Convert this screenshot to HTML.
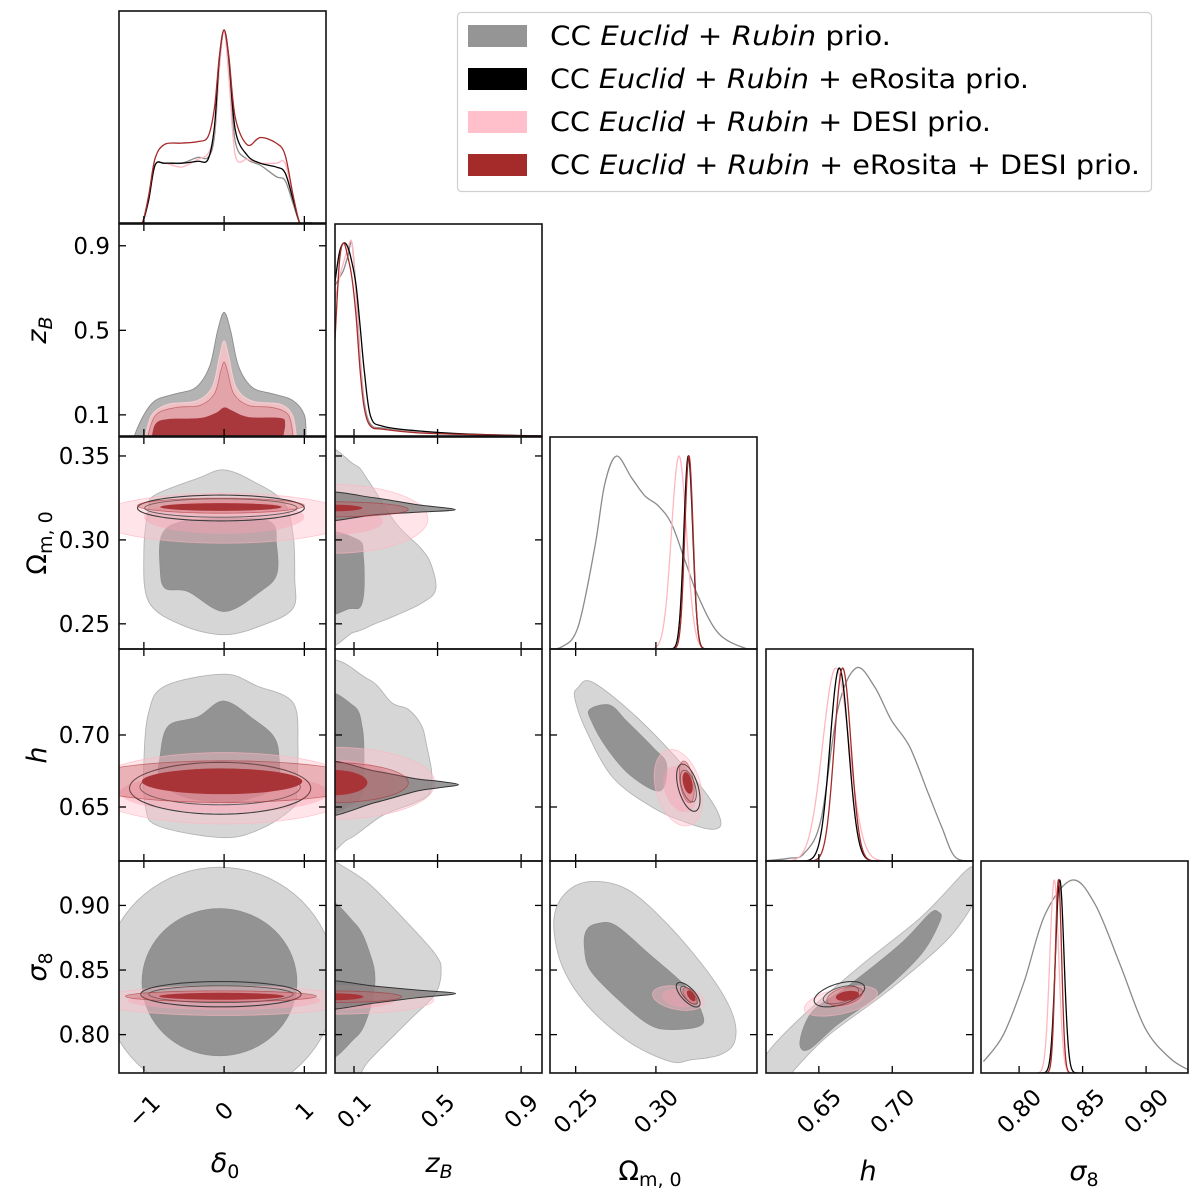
<!DOCTYPE html>
<html><head><meta charset="utf-8">
<style>
html,body{margin:0;padding:0;background:#fff;}
svg{display:block;font-family:"DejaVu Sans","Liberation Sans",sans-serif;}
</style></head>
<body>
<svg id="chart" width="1200" height="1201" viewBox="0 0 1200 1201" xmlns="http://www.w3.org/2000/svg">
<rect x="0" y="0" width="1200" height="1201" fill="#fff"/>
<g id="panels"></g>
<g id="labels"></g>
<g id="legend">
  <rect x="457.5" y="12.5" width="694" height="179" rx="4" fill="#fff" stroke="#d0d0d0" stroke-width="1.2"/>
  <rect x="468" y="25" width="59" height="22" fill="#959595"/>
  <rect x="468" y="68" width="59" height="22" fill="#000"/>
  <rect x="468" y="111" width="59" height="22" fill="#ffc0cb"/>
  <rect x="468" y="154" width="59" height="22" fill="#a52a2a"/>
  <text x="550" y="45" font-size="26.5" textLength="341" lengthAdjust="spacingAndGlyphs">CC <tspan font-style="italic">Euclid</tspan> + <tspan font-style="italic">Rubin</tspan>  prio.</text>
  <text x="550" y="88" font-size="26.5" textLength="479" lengthAdjust="spacingAndGlyphs">CC <tspan font-style="italic">Euclid</tspan> + <tspan font-style="italic">Rubin</tspan> + eRosita prio.</text>
  <text x="550" y="131" font-size="26.5" textLength="441" lengthAdjust="spacingAndGlyphs">CC <tspan font-style="italic">Euclid</tspan> + <tspan font-style="italic">Rubin</tspan> + DESI prio.</text>
  <text x="550" y="174" font-size="26.5" textLength="590" lengthAdjust="spacingAndGlyphs">CC <tspan font-style="italic">Euclid</tspan> + <tspan font-style="italic">Rubin</tspan> + eRosita + DESI prio.</text>
</g>
</svg>
<script>
// ---------- axis configuration ----------
const colRanges = [[-1.31,1.27],[0.009,1.0],[0.234,0.363],[0.614,0.755],[0.770,0.933]];
const rowRanges = [null,[0.0,1.003],[0.235,0.3613],[0.6125,0.7597],[0.7703,0.9344]];
const xTicks = [[-1,0,1],[0.1,0.5,0.9],[0.25,0.30],[0.65,0.70],[0.80,0.85,0.90]];
const xTickLabels = [["\u22121","0","1"],["0.1","0.5","0.9"],["0.25","0.30"],["0.65","0.70"],["0.80","0.85","0.90"]];
const yTicks = [null,[0.1,0.5,0.9],[0.25,0.30,0.35],[0.65,0.70],[0.80,0.85,0.90]];
const yTickLabels = [null,["0.1","0.5","0.9"],["0.25","0.30","0.35"],["0.65","0.70"],["0.80","0.85","0.90"]];

// ---------- 1D marginal data ----------
const d0Grid  = [-1.1,-1.02,-0.94,-0.86,-0.74,-0.53,-0.33,-0.2,-0.12,-0.06,0,0.06,0.14,0.29,0.45,0.65,0.76,0.86,0.94,1.0,1.1];
const d0Gray  = [0,0,0.12,0.30,0.31,0.31,0.34,0.34,0.45,0.80,1.0,0.80,0.42,0.33,0.30,0.24,0.22,0.10,0.003,0,0];
const d0Black = [0,0,0.12,0.30,0.31,0.31,0.32,0.33,0.50,0.85,1.0,0.85,0.48,0.35,0.31,0.29,0.26,0.12,0.003,0,0];
const d0Pink  = [0,0,0.12,0.30,0.31,0.29,0.33,0.36,0.48,0.80,1.0,0.75,0.35,0.33,0.31,0.31,0.31,0.13,0.003,0,0];
const d0Red   = [0,0,0.143,0.335,0.408,0.414,0.422,0.448,0.597,0.859,1.0,0.859,0.545,0.405,0.443,0.414,0.353,0.143,0.003,0,0];

const zbGrid  = [0.009,0.03,0.05,0.07,0.09,0.11,0.13,0.15,0.18,0.24,0.4,0.64,1.0];
const zbGray  = [0.78,0.82,0.86,0.93,1.0,0.75,0.40,0.17,0.06,0.04,0.02,0.008,0];
const zbBlack = [0.80,0.95,1.0,0.98,0.90,0.78,0.56,0.33,0.10,0.05,0.027,0.01,0];
const zbPink  = [0.70,0.82,0.90,0.97,1.0,0.72,0.38,0.15,0.05,0.035,0.018,0.008,0];
const zbRed   = [0.50,0.90,1.0,0.93,0.82,0.62,0.33,0.14,0.05,0.035,0.017,0.008,0];

const omGrid = [0.230,0.2411,0.2515,0.2619,0.2681,0.2754,0.2848,0.2931,0.3015,0.3098,0.3181,0.3265,0.339,0.3556,0.365];
const omGray = [0,0.01,0.115,0.527,0.854,1.0,0.888,0.794,0.742,0.648,0.459,0.270,0.081,0.004,0];
const omMean  = [0.3144,0.3202,0.3206];   // pink, black, red
const omSigma = [0.0047,0.0028,0.0026];

const hGrid = [0.612,0.6295,0.6399,0.6514,0.6628,0.6753,0.6879,0.6993,0.7118,0.7245,0.7336,0.7427,0.7553];
const hGray = [0,0.014,0.039,0.212,0.782,1.0,0.904,0.731,0.593,0.351,0.178,0.022,0];
const hMean  = [0.6616,0.6639,0.6662];
const hSigma = [0.0090,0.0063,0.0057];

const s8Grid = [0.7719,0.7876,0.8041,0.8205,0.8417,0.8598,0.8795,0.8992,0.9189,0.9352];
const s8Gray = [0.059,0.198,0.476,0.823,1.0,0.875,0.5625,0.233,0.0765,0.01];
const s8Mean  = [0.8277,0.8320,0.8310];
const s8Sigma = [0.0035,0.0034,0.0025];

// ---------- 2D contour data (data coordinates) ----------
const hatGray = [[-1.12,-0.02],[-1.12,0],[-1.0,0.1],[-0.85,0.17],[-0.6,0.2],[-0.35,0.23],[-0.18,0.33],[-0.08,0.5],[0,0.585],[0.08,0.5],[0.18,0.33],[0.35,0.23],[0.6,0.2],[0.85,0.17],[1.0,0.1],[1.02,0],[1.02,-0.02]];
const hatPink = [[-0.98,-0.02],[-0.98,0],[-0.9,0.1],[-0.7,0.15],[-0.35,0.165],[-0.15,0.23],[-0.06,0.37],[0,0.45],[0.06,0.37],[0.15,0.23],[0.35,0.165],[0.7,0.15],[0.85,0.1],[0.9,0],[0.9,-0.02]];
const hatRose = [[-0.95,-0.02],[-0.95,0],[-0.85,0.1],[-0.6,0.135],[-0.3,0.145],[-0.12,0.2],[-0.04,0.31],[0,0.35],[0.04,0.31],[0.12,0.2],[0.3,0.145],[0.6,0.135],[0.8,0.1],[0.86,0],[0.86,-0.02]];
const hatRed  = [[-0.9,-0.02],[-0.9,0],[-0.85,0.06],[-0.7,0.08],[-0.3,0.085],[-0.1,0.11],[0,0.135],[0.1,0.12],[0.3,0.09],[0.7,0.085],[0.76,0.06],[0.74,0],[0.74,-0.02]];

const omD0GrayOuter = [[0,0.3417],[0.368,0.3347],[0.736,0.3228],[0.86,0.303],[0.88,0.2772],[0.859,0.2593],[0.491,0.2494],[0,0.2435],[-0.532,0.2494],[-0.941,0.2633],[-1.0,0.293],[-0.941,0.3189],[-0.859,0.3268],[-0.327,0.3367]];
const omD0GrayInner = [[0,0.3129],[0.573,0.3109],[0.654,0.297],[0.654,0.2792],[0.45,0.2692],[0,0.2573],[-0.45,0.2692],[-0.736,0.2712],[-0.798,0.2831],[-0.777,0.303],[-0.532,0.3109]];
const omD0Pink = [[0,0.3129,1.6,0.0149,0],[0,0.3137,1.0,0.0101,0]];
const omD0Black = [[-0.04,0.319,1.04,0.0077,0],[-0.04,0.319,0.95,0.0055,0]];
const omD0Red = [[-0.04,0.3204,1.04,0.0045,0],[-0.04,0.3196,0.757,0.0023,0]];

const hD0GrayOuter = [[0,0.7422],[0.41,0.734],[0.859,0.7224],[0.92,0.6924],[0.9,0.66],[0.879,0.6507],[0.491,0.6357],[0,0.6287],[-0.818,0.6368],[-0.982,0.6507],[-1.0,0.6808],[-0.941,0.7155],[-0.736,0.734]];
const hD0GrayInner = [[0,0.7236],[0.368,0.7109],[0.614,0.6993],[0.684,0.6854],[0.654,0.6646],[0.286,0.6553],[0,0.653],[-0.532,0.6576],[-0.798,0.6692],[-0.798,0.6854],[-0.695,0.7063],[-0.327,0.7126]];
const hD0Pink = [[0,0.663,1.7,0.0248,0],[0,0.6599,1.3,0.0139,0]];
const hD0Black = [[-0.05,0.663,1.13,0.018,0],[-0.05,0.664,1.0,0.0125,0]];
const hD0Red = [[0,0.6676,1.8,0.0145,0],[-0.025,0.6678,1.0,0.0089,0]];

const s8D0Gray = [[-0.058,0.8406,1.45,0.089,0],[-0.058,0.8406,0.966,0.057,0]];
const s8D0Pink = [[0,0.8263,1.6,0.0115,0],[0,0.8265,1.2,0.0075,0]];
const s8D0Black = [[-0.04,0.8313,1.0,0.0098,0],[-0.04,0.8313,0.9,0.0065,0]];
const s8D0Red = [[-0.04,0.8297,1.19,0.0042,0],[-0.03,0.8297,0.78,0.0027,0]];

const omZbGrayOuter = [[-0.05,0.347],[0.1,0.345],[0.17,0.335],[0.3,0.31],[0.42,0.295],[0.47,0.285],[0.49,0.27],[0.42,0.262],[0.3,0.255],[0.2,0.25],[0.1,0.245],[-0.05,0.244]];
const omZbGrayInner = [[-0.05,0.302],[0.12,0.3],[0.145,0.29],[0.148,0.27],[0.13,0.26],[0.08,0.259],[-0.05,0.258]];
const omZbBlackTail = [[-0.05,0.328],[0.2,0.325],[0.4,0.321],[0.585,0.318],[0.4,0.3165],[0.2,0.315],[-0.05,0.312]];
const omZbPink = [[0,0.3125,0.454,0.0205,0],[0,0.311,0.239,0.008,0]];
const omZbRed = [[0,0.3182,0.36,0.0045,0],[0,0.319,0.14,0.002,0]];

const hZbGrayOuter = [[-0.05,0.7444],[0.1686,0.7387],[0.2805,0.7224],[0.36,0.7178],[0.424,0.7063],[0.448,0.6924],[0.472,0.6738],[0.464,0.6599],[0.392,0.653],[0.2327,0.6438],[0.0727,0.6276],[-0.05,0.6264]];
const hZbGrayInner = [[-0.05,0.725],[0.1,0.72],[0.14,0.705],[0.148,0.685],[0.14,0.66],[0.09,0.652],[-0.05,0.65]];
const hZbBlackTail = [[-0.05,0.6803],[0.2,0.675],[0.4,0.6695],[0.5,0.668],[0.6,0.6655],[0.5,0.6632],[0.4,0.661],[0.2,0.653],[-0.05,0.6449]];
const hZbPink = [[0,0.6665,0.488,0.025,0],[0,0.666,0.3,0.017,0]];
const hZbRed = [[0,0.6669,0.36,0.0139,0],[0,0.6669,0.164,0.0088,0]];

const s8ZbGrayOuter = [[-0.05,0.94],[0.009,0.934],[0.1686,0.9172],[0.344,0.8885],[0.488,0.8625],[0.517,0.8495],[0.488,0.8313],[0.36,0.8104],[0.1686,0.7792],[0.105,0.765],[-0.05,0.765]];
const s8ZbGrayInner = [[-0.05,0.8977],[0.105,0.886],[0.1766,0.8625],[0.2006,0.8417],[0.1686,0.8156],[0.105,0.7974],[-0.05,0.787]];
const s8ZbBlackTail = [[-0.05,0.8409],[0.2,0.8375],[0.4,0.8345],[0.587,0.8318],[0.4,0.8285],[0.2,0.8245],[-0.05,0.8203]];
const s8ZbPink = [[0,0.8268,0.482,0.011,0],[0,0.8268,0.3,0.0075,0]];
const s8ZbRed = [[0,0.8293,0.328,0.0045,0],[0,0.8293,0.145,0.0027,0]];

const hOmGrayOuter = [[0.2598,0.737],[0.2838,0.7167],[0.3088,0.6889],[0.3317,0.6588],[0.3404,0.6403],[0.3358,0.6345],[0.3192,0.6391],[0.2983,0.6495],[0.2733,0.6703],[0.2567,0.7028],[0.2494,0.7259],[0.2515,0.7329]];
const hOmGrayInner = [[0.2588,0.7178],[0.2713,0.7208],[0.2817,0.7097],[0.2983,0.6912],[0.3067,0.6796],[0.3025,0.6611],[0.2838,0.6722],[0.2692,0.6912],[0.2598,0.7097]];
const hOmPink = [[0.314,0.6634,0.0151,0.0266,-0.3],[0.315,0.6623,0.0104,0.016,-0.3]];
const hOmBlack = [[0.3202,0.6634,0.0073,0.0164,-0.5],[0.3202,0.6645,0.005,0.011,-0.5]];
const hOmRed = [[0.3192,0.6674,0.0047,0.0145,-0.4],[0.3198,0.6667,0.0032,0.0075,-0.4]];

const s8OmGrayOuter = [[0.2593,0.9185],[0.2827,0.912],[0.3088,0.8834],[0.3348,0.8443],[0.3478,0.8156],[0.3491,0.7948],[0.34,0.7844],[0.3218,0.7805],[0.3088,0.7792],[0.2827,0.7948],[0.2567,0.8234],[0.2411,0.8547],[0.2364,0.8885],[0.2436,0.9094]];
const s8OmGrayInner = [[0.2632,0.8859],[0.2749,0.8846],[0.2957,0.8625],[0.3192,0.8365],[0.3291,0.8156],[0.327,0.8065],[0.3088,0.8039],[0.2957,0.8078],[0.2775,0.826],[0.2593,0.8495],[0.2554,0.8677],[0.2567,0.8807]];
const s8OmPink = [[0.314,0.8283,0.0161,0.0095,-0.3],[0.314,0.8281,0.0104,0.0072,-0.3]];
const s8OmBlack = [[0.3201,0.8309,0.0074,0.0095,-0.7],[0.3205,0.8305,0.0052,0.0068,-0.7]];
const s8OmRed = [[0.3216,0.8299,0.0048,0.0065,-0.6],[0.322,0.830,0.0027,0.0042,-0.6]];

const s8HGrayOuter = [[0.61,0.77],[0.6157,0.787],[0.64,0.8156],[0.6799,0.8547],[0.7199,0.8912],[0.7484,0.925],[0.7555,0.9307],[0.76,0.935],[0.765,0.92],[0.757,0.9041],[0.737,0.8729],[0.6971,0.8338],[0.6571,0.80],[0.6342,0.774],[0.625,0.76]];
const s8HGrayInner = [[0.6371,0.7948],[0.6457,0.8182],[0.6685,0.8365],[0.7056,0.8703],[0.7256,0.8938],[0.7313,0.895],[0.7327,0.8885],[0.7199,0.8625],[0.6913,0.8313],[0.6628,0.8078],[0.6428,0.7883]];
const s8HPink = [[0.665,0.826,0.025,0.0117,0.5],[0.669,0.8275,0.0121,0.0065,0.4]];
const s8HBlack = [[0.664,0.8313,0.0172,0.0098,0.5],[0.665,0.8308,0.012,0.007,0.5]];
const s8HRed = [[0.6676,0.8297,0.0122,0.0074,0.4],[0.6695,0.830,0.0079,0.0039,0.3]];

// ---------- helpers ----------
const NS = "http://www.w3.org/2000/svg";
const L = [119,335,550,766,981], T = [11,224,437,649,861], W = 207, H = 212;
const panelsG = document.getElementById('panels');
const labelsG = document.getElementById('labels');
function mk(tag, attrs, parent){ const e=document.createElementNS(NS,tag); for(const k in attrs) e.setAttribute(k,attrs[k]); parent.appendChild(e); return e; }
function sx(c,v){ const r=colRanges[c]; return L[c]+(v-r[0])/(r[1]-r[0])*W; }
function sy(rw,v){ const r=rowRanges[rw]; return T[rw]+H-(v-r[0])/(r[1]-r[0])*H; }
function smoothClosed(p){
  const n=p.length; let d=`M${p[0][0].toFixed(2)},${p[0][1].toFixed(2)}`;
  for(let i=0;i<n;i++){ const p0=p[(i-1+n)%n],p1=p[i],p2=p[(i+1)%n],p3=p[(i+2)%n];
    const c1=[p1[0]+(p2[0]-p0[0])/6,p1[1]+(p2[1]-p0[1])/6], c2=[p2[0]-(p3[0]-p1[0])/6,p2[1]-(p3[1]-p1[1])/6];
    d+=`C${c1[0].toFixed(2)},${c1[1].toFixed(2)} ${c2[0].toFixed(2)},${c2[1].toFixed(2)} ${p2[0].toFixed(2)},${p2[1].toFixed(2)}`; }
  return d+'Z';
}
function smoothOpen(p){
  const n=p.length; let d=`M${p[0][0].toFixed(2)},${p[0][1].toFixed(2)}`;
  for(let i=0;i<n-1;i++){ const p0=p[Math.max(i-1,0)],p1=p[i],p2=p[i+1],p3=p[Math.min(i+2,n-1)];
    const c1=[p1[0]+(p2[0]-p0[0])/6,p1[1]+(p2[1]-p0[1])/6], c2=[p2[0]-(p3[0]-p1[0])/6,p2[1]-(p3[1]-p1[1])/6];
    d+=`C${c1[0].toFixed(2)},${c1[1].toFixed(2)} ${c2[0].toFixed(2)},${c2[1].toFixed(2)} ${p2[0].toFixed(2)},${p2[1].toFixed(2)}`; }
  return d;
}
function ellPath(c,r,e){
  const [cx,cy,rx,ry,rho]=e; const s=Math.sqrt(1-rho*rho); let d='';
  for(let i=0;i<=72;i++){ const t=i/72*2*Math.PI; const x=cx+rx*Math.cos(t), y=cy+ry*(rho*Math.cos(t)+s*Math.sin(t));
    d+=(i?'L':'M')+sx(c,x).toFixed(2)+','+sy(r,y).toFixed(2); }
  return d+'Z';
}
function polyPath(c,r,pts){ return smoothClosed(pts.map(p=>[sx(c,p[0]),sy(r,p[1])])); }

const ST = {
  grayOuter:{fill:'#d6d6d6',stroke:'#b4b4b4','stroke-width':0.9},
  grayInner:{fill:'#939393',stroke:'#8a8a8a','stroke-width':0.6},
  pinkOuter:{fill:'rgba(255,192,203,0.42)',stroke:'rgba(255,180,192,0.7)','stroke-width':0.8},
  pinkInner:{fill:'rgba(250,160,178,0.42)',stroke:'none'},
  blackOuter:{fill:'none',stroke:'#3c3c3c','stroke-width':1.1},
  blackInner:{fill:'none',stroke:'#555','stroke-width':0.9},
  blackTail:{fill:'rgba(120,120,120,0.75)',stroke:'#333','stroke-width':1.0},
  redOuter:{fill:'rgba(200,95,100,0.38)',stroke:'rgba(165,42,42,0.55)','stroke-width':0.8},
  redInner:{fill:'#a93437',stroke:'none'}
};
function addPath(g,d,style,name){
  const attrs={d:d}; for(const k in style) attrs[k]=style[k];
  const p=mk('path',attrs,g);
  
  
  return p;
}

function frame(c,r,diag){
  const g=mk('g',{},panelsG);
  
  
  const cid='clip'+r+c;
  const cp=mk('clipPath',{id:cid},g); mk('rect',{x:L[c],y:T[r],width:W,height:H},cp);
  const inner=mk('g',{'clip-path':`url(#${cid})`},g);
  return {g,inner,diag};
}
function finishFrame(f,c,r){
  const g=f.g;
  const tk=mk('g',{stroke:'#000','stroke-width':1.3},g);
  
  
  xTicks[c].forEach(v=>{ const x=sx(c,v);
    mk('line',{x1:x,x2:x,y1:T[r]+H,y2:T[r]+H-7},tk);
    if(!f.diag) mk('line',{x1:x,x2:x,y1:T[r],y2:T[r]+7},tk); });
  if(!f.diag) yTicks[r].forEach(v=>{ const y=sy(r,v);
    mk('line',{x1:L[c],x2:L[c]+7,y1:y,y2:y},tk); mk('line',{x1:L[c]+W,x2:L[c]+W-7,y1:y,y2:y},tk); });
  const fr=mk('rect',{x:L[c],y:T[r],width:W,height:H,fill:'none',stroke:'#111','stroke-width':1.6},g);
  
  
}

// ---------- 1D panels ----------
const lineCols = {gray:'#8a8a8a',black:'#000',pink:'#ffb6c1',red:'#a52a2a'};
function curve(f,c,r,grid,vals,col,name){
  const pts=grid.map((x,i)=>[sx(c,x), T[r]+H-vals[i]*0.91*H]);
  const p=mk('path',{d:smoothOpen(pts),fill:'none',stroke:col,'stroke-width':1.3},f.inner);
  
  
}
function gauss(f,c,r,mu,sig,col,name){
  const grid=[],vals=[];
  for(let i=0;i<=160;i++){ const x=mu-5*sig+i*10*sig/160; grid.push(x); vals.push(Math.exp(-0.5*((x-mu)/sig)**2)); }
  const pts=grid.map((x,i)=>[sx(c,x), T[r]+H-vals[i]*0.91*H]);
  let d=''; pts.forEach((p,i)=>d+=(i?'L':'M')+p[0].toFixed(2)+','+p[1].toFixed(2));
  const p=mk('path',{d:d,fill:'none',stroke:col,'stroke-width':1.3},f.inner);
  
  
}
let f;
f=frame(0,0,true);
curve(f,0,0,d0Grid,d0Gray,lineCols.gray,'marginal-delta0-gray');
curve(f,0,0,d0Grid,d0Pink,lineCols.pink,'marginal-delta0-pink');
curve(f,0,0,d0Grid,d0Black,lineCols.black,'marginal-delta0-black');
curve(f,0,0,d0Grid,d0Red,lineCols.red,'marginal-delta0-red');
finishFrame(f,0,0);

f=frame(0,1,false);
addPath(f.inner,polyPath(0,1,hatGray),{fill:'#b3b3b3',stroke:'#8c8c8c','stroke-width':0.9},'contour-zb-delta0-gray');
addPath(f.inner,polyPath(0,1,hatPink),{fill:'#eec2c5',stroke:'#f5d0d4','stroke-width':1},'contour-zb-delta0-pink');
addPath(f.inner,polyPath(0,1,hatRose),{fill:'#e2a4a8',stroke:'#c86a70','stroke-width':0.8},'contour-zb-delta0-red-outer');
addPath(f.inner,polyPath(0,1,hatRed),{fill:'#a8383b',stroke:'none'},'contour-zb-delta0-red-inner');
finishFrame(f,0,1);

f=frame(1,1,true);
curve(f,1,1,zbGrid,zbGray,lineCols.gray,'marginal-zb-gray');
curve(f,1,1,zbGrid,zbPink,lineCols.pink,'marginal-zb-pink');
curve(f,1,1,zbGrid,zbBlack,lineCols.black,'marginal-zb-black');
curve(f,1,1,zbGrid,zbRed,lineCols.red,'marginal-zb-red');
finishFrame(f,1,1);

function panel2D(c,r,o){
  const fr=frame(c,r,false); const g=fr.inner; const tag='r'+r+'-c'+c;
  if(o.gray){ if(o.gray.outer) addPath(g,o.gray.outer,ST.grayOuter,'contour-gray-95-'+tag);
              if(o.gray.inner) addPath(g,o.gray.inner,ST.grayInner,'contour-gray-68-'+tag); }
  if(o.pink){ addPath(g,ellPath(c,r,o.pink[0]),ST.pinkOuter,'contour-pink-95-'+tag);
              addPath(g,ellPath(c,r,o.pink[1]),ST.pinkInner,'contour-pink-68-'+tag); }
  if(o.tail) addPath(g,polyPath(c,r,o.tail),ST.blackTail,'contour-black-tail-'+tag);
  if(o.black){ addPath(g,ellPath(c,r,o.black[0]),ST.blackOuter,'contour-black-95-'+tag);
               addPath(g,ellPath(c,r,o.black[1]),ST.blackInner,'contour-black-68-'+tag); }
  if(o.red){ addPath(g,ellPath(c,r,o.red[0]),ST.redOuter,'contour-red-95-'+tag);
             addPath(g,ellPath(c,r,o.red[1]),ST.redInner,'contour-red-68-'+tag); }
  finishFrame(fr,c,r);
}
function G(c,r,o,i){ return {outer:o?polyPath(c,r,o):null, inner:i?polyPath(c,r,i):null}; }
function GE(c,r,e){ return {outer:ellPath(c,r,e[0]), inner:ellPath(c,r,e[1])}; }

panel2D(0,2,{gray:G(0,2,omD0GrayOuter,omD0GrayInner),pink:omD0Pink,black:omD0Black,red:omD0Red});
panel2D(1,2,{gray:G(1,2,omZbGrayOuter,omZbGrayInner),pink:omZbPink,tail:omZbBlackTail,red:omZbRed});
f=frame(2,2,true);
curve(f,2,2,omGrid,omGray,lineCols.gray,'marginal-omega-gray');
gauss(f,2,2,omMean[0],omSigma[0],lineCols.pink,'marginal-omega-pink');
gauss(f,2,2,omMean[1],omSigma[1],lineCols.black,'marginal-omega-black');
gauss(f,2,2,omMean[2],omSigma[2],lineCols.red,'marginal-omega-red');
finishFrame(f,2,2);

panel2D(0,3,{gray:G(0,3,hD0GrayOuter,hD0GrayInner),pink:hD0Pink,black:hD0Black,red:hD0Red});
panel2D(1,3,{gray:G(1,3,hZbGrayOuter,hZbGrayInner),pink:hZbPink,tail:hZbBlackTail,red:hZbRed});
panel2D(2,3,{gray:G(2,3,hOmGrayOuter,hOmGrayInner),pink:hOmPink,black:hOmBlack,red:hOmRed});
f=frame(3,3,true);
curve(f,3,3,hGrid,hGray,lineCols.gray,'marginal-h-gray');
gauss(f,3,3,hMean[0],hSigma[0],lineCols.pink,'marginal-h-pink');
gauss(f,3,3,hMean[1],hSigma[1],lineCols.black,'marginal-h-black');
gauss(f,3,3,hMean[2],hSigma[2],lineCols.red,'marginal-h-red');
finishFrame(f,3,3);

panel2D(0,4,{gray:GE(0,4,s8D0Gray),pink:s8D0Pink,black:s8D0Black,red:s8D0Red});
panel2D(1,4,{gray:G(1,4,s8ZbGrayOuter,s8ZbGrayInner),pink:s8ZbPink,tail:s8ZbBlackTail,red:s8ZbRed});
panel2D(2,4,{gray:G(2,4,s8OmGrayOuter,s8OmGrayInner),pink:s8OmPink,black:s8OmBlack,red:s8OmRed});
panel2D(3,4,{gray:G(3,4,s8HGrayOuter,s8HGrayInner),pink:s8HPink,black:s8HBlack,red:s8HRed});
f=frame(4,4,true);
curve(f,4,4,s8Grid,s8Gray,lineCols.gray,'marginal-sigma8-gray');
gauss(f,4,4,s8Mean[0],s8Sigma[0],lineCols.pink,'marginal-sigma8-pink');
gauss(f,4,4,s8Mean[1],s8Sigma[1],lineCols.black,'marginal-sigma8-black');
gauss(f,4,4,s8Mean[2],s8Sigma[2],lineCols.red,'marginal-sigma8-red');
finishFrame(f,4,4);

for(let r=1;r<=4;r++){
  yTicks[r].forEach((v,i)=>{
    const t=mk('text',{x:110,y:sy(r,v)+8,'text-anchor':'end','font-size':23},labelsG);
    t.textContent=yTickLabels[r][i];
    
    
  });
}
for(let c=0;c<5;c++){
  xTicks[c].forEach((v,i)=>{
    const x=sx(c,v);
    const t=mk('text',{x:0,y:0,dy:'0.35em','text-anchor':'middle','font-size':23,transform:`translate(${x.toFixed(1)},1111) rotate(-45)`},labelsG);
    t.textContent=xTickLabels[c][i];
    
    
  });
}
</script>
<script>
(function(){
  const NS="http://www.w3.org/2000/svg"; const lg=document.getElementById('labels');
  const items=[
    ['x-axis-title-delta0',225,1172,0,'<tspan font-style="italic">δ</tspan><tspan font-size="19" dy="6">0</tspan>'],
    ['x-axis-title-zb',439,1172,0,'<tspan font-style="italic">z</tspan><tspan font-size="19" font-style="italic" dy="6">B</tspan>'],
    ['x-axis-title-omega',650,1180,0,'Ω<tspan font-size="19" dy="6">m, 0</tspan>'],
    ['x-axis-title-h',868,1180,0,'<tspan font-style="italic">h</tspan>'],
    ['x-axis-title-sigma8',1084,1180,0,'<tspan font-style="italic">σ</tspan><tspan font-size="19" dy="6">8</tspan>'],
    ['y-axis-title-zb',46,330,1,'<tspan font-style="italic">z</tspan><tspan font-size="19" font-style="italic" dy="6">B</tspan>'],
    ['y-axis-title-omega',46,543,1,'Ω<tspan font-size="19" dy="6">m, 0</tspan>'],
    ['y-axis-title-h',46,755,1,'<tspan font-style="italic">h</tspan>'],
    ['y-axis-title-sigma8',46,967,1,'<tspan font-style="italic">σ</tspan><tspan font-size="19" dy="6">8</tspan>']
  ];
  items.forEach(it=>{
    const t=document.createElementNS(NS,'text');
    t.setAttribute('text-anchor','middle'); t.setAttribute('font-size','27');
    if(it[3]) t.setAttribute('transform',`translate(${it[1]},${it[2]}) rotate(-90)`);
    else { t.setAttribute('x',it[1]); t.setAttribute('y',it[2]); }
    t.innerHTML=it[4];
    
    
    lg.appendChild(t);
  });
})();
</script>
</body></html>
